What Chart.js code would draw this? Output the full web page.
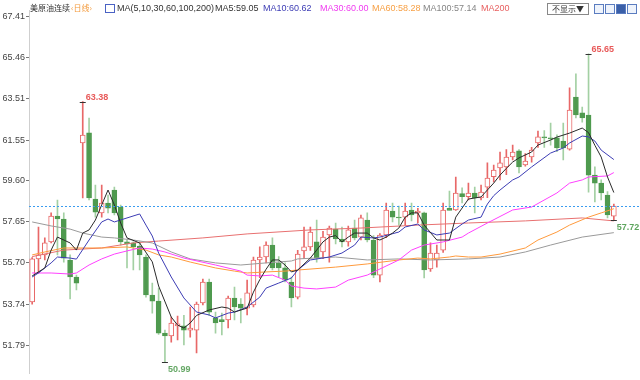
<!DOCTYPE html>
<html>
<head>
<meta charset="utf-8">
<title>美原油连续 日线</title>
<script src="https://cdn.jsdelivr.net/npm/chart.js@4.4.0/dist/chart.umd.min.js"></script>
<style>
  body { margin: 0; background: #fff; }
  #wrap { position: relative; width: 640px; height: 380px; overflow: hidden;
          font-family: "Liberation Sans", Arial, sans-serif; }
  #c { position: absolute; left: 0; top: 0; }
  .h { position: absolute; top: 2px; font-size: 9px; line-height: 12px; white-space: nowrap; color: #333; }
  .cjk { font-family: "Noto Sans CJK SC", sans-serif; font-size: 8px; }
  #hide { position: absolute; left: 547px; top: 3px; width: 40px; height: 10px; border: 1px solid #888;
          font-family: "Noto Sans CJK SC", sans-serif; font-size: 8px; line-height: 10px; color: #333; text-align: center; }
  .ico { position: absolute; top: 4px; width: 8px; height: 8px; border: 1px solid #5a7cc0; background: #eef3fb; }
</style>
</head>
<body>
<div id="wrap">
  <canvas id="c" width="640" height="380"></canvas>
  <span class="h cjk" style="left:30px;">美原油连续</span>
  <span class="h cjk" style="left:71px;color:#f39a3c;">‹日线›</span>
  <span class="h" style="left:105px;top:4px;width:8px;height:7px;border:1px solid #4a62c4;"></span>
  <span class="h" style="left:117px;">MA(5,10,30,60,100,200)</span>
  <span class="h" style="left:215px;color:#333;">MA5:59.05</span>
  <span class="h" style="left:263px;color:#3c3cb4;">MA10:60.62</span>
  <span class="h" style="left:320px;color:#f03cf0;">MA30:60.00</span>
  <span class="h" style="left:372px;color:#f7a045;">MA60:58.28</span>
  <span class="h" style="left:423px;color:#858585;">MA100:57.14</span>
  <span class="h" style="left:481px;color:#e86060;">MA200</span>
  <div id="hide">不显示▼</div>
  <span class="ico" style="left:594px;"></span>
  <span class="ico" style="left:605px;"></span>
  <span class="ico" style="left:616px;background:#3a5fa8;"></span>
  <span class="ico" style="left:627px;"></span>
</div>
<script>
// Daily candles (oldest -> newest)
const open  = [53.84,55.89,56.08,56.70,57.93,57.79,55.84,55.03,61.41,61.89,
               58.74,58.08,58.55,59.17,58.36,56.70,56.65,56.50,55.98,54.17,
               53.88,52.36,52.22,52.70,52.70,52.50,52.50,53.79,54.79,53.08,
               53.00,52.98,54.03,53.74,53.55,53.70,55.84,55.98,56.55,55.70,
               55.46,54.79,54.07,56.27,56.46,56.70,56.22,57.03,57.31,56.84,
               56.70,57.36,56.93,57.74,56.79,55.12,57.03,58.17,57.88,57.88,
               58.22,58.08,58.08,55.41,55.84,56.31,58.30,58.22,59.00,58.85,
               59.03,58.79,59.31,59.80,60.22,60.27,60.74,61.03,60.36,60.74,
               61.41,61.70,61.65,61.65,61.50,61.12,63.60,62.84,62.74,59.88,
               59.50,58.93,57.93];
const high  = [55.95,57.41,56.89,58.08,58.69,58.08,56.08,55.12,63.38,62.60,
               59.41,59.41,58.93,59.31,58.45,56.79,56.70,56.70,56.08,54.74,
               54.50,52.50,53.12,53.17,53.20,53.60,53.84,54.93,54.93,53.36,
               53.31,54.12,54.55,54.00,54.88,55.98,56.46,56.70,56.89,56.00,
               55.70,55.03,56.30,57.41,57.41,57.74,57.20,57.45,57.60,57.41,
               57.45,57.74,57.98,58.08,57.00,57.10,58.55,58.55,58.40,58.55,
               58.55,58.30,58.12,56.65,56.55,58.55,59.12,59.79,59.27,59.50,
               59.31,59.40,60.46,60.36,60.98,61.10,61.31,61.10,60.90,61.20,
               61.98,62.00,62.36,61.80,62.36,64.03,64.70,63.12,65.65,60.27,
               59.65,59.10,58.50];
const low   = [53.74,55.22,55.84,56.65,56.08,55.74,53.98,54.41,58.79,58.70,
               57.88,57.88,58.08,57.98,56.55,55.46,55.36,55.36,54.07,53.31,
               52.30,50.99,51.93,52.03,51.79,52.17,51.41,53.70,53.20,52.36,
               52.27,52.60,52.98,52.84,53.22,53.60,55.00,55.70,55.36,55.03,
               54.80,53.60,53.98,55.90,56.30,55.74,55.90,55.74,56.60,56.46,
               56.50,56.80,56.80,56.70,55.00,54.79,56.90,57.65,57.50,57.50,
               57.70,57.60,54.98,55.30,55.50,56.20,58.22,58.20,58.55,58.70,
               58.08,58.70,58.80,59.55,59.65,59.90,60.60,59.98,60.30,60.50,
               61.20,61.20,61.30,61.00,60.60,61.07,62.60,62.40,59.07,58.60,
               58.70,57.84,57.72];
const close = [55.89,56.08,56.65,57.93,57.79,55.93,55.03,54.74,61.79,58.79,
               58.12,58.55,58.31,58.08,56.70,56.60,56.46,56.08,54.17,53.88,
               52.36,52.22,52.84,52.80,52.50,52.60,53.74,54.79,53.36,52.84,
               52.90,54.03,53.60,53.55,54.27,55.84,55.98,56.55,55.46,55.46,
               54.88,54.03,56.12,56.46,57.17,55.93,56.93,57.36,56.84,56.70,
               57.27,56.89,57.84,56.79,55.12,57.03,58.22,57.88,57.84,58.17,
               57.98,58.17,55.36,56.17,56.17,58.22,58.20,59.03,58.85,59.03,
               58.79,59.07,59.74,60.12,60.46,60.74,60.98,60.27,60.55,61.07,
               61.70,61.65,61.60,61.17,61.17,62.98,62.74,62.60,59.88,59.50,
               59.03,57.98,58.40];

// Moving averages (null = not read, line spans the gap)
const ma5 = [55.08,null,55.46,56.31,56.93,null,56.65,56.31,57.12,57.27,
             57.74,58.46,59.17,58.46,57.60,56.89,null,56.65,null,55.75,
             54.60,null,53.12,52.74,52.60,52.84,53.20,null,53.46,null,
             53.60,53.55,53.36,null,53.55,54.31,54.90,55.40,55.84,55.84,
             55.60,55.27,55.36,null,55.93,56.31,56.70,56.93,57.00,56.70,
             56.93,57.12,null,57.12,56.89,56.79,56.93,57.12,57.36,57.88,
             58.08,58.08,57.50,null,56.79,null,56.79,57.88,null,58.74,
             null,58.84,59.17,59.50,59.88,60.20,60.50,60.70,null,60.98,
             61.31,null,61.55,61.69,null,61.88,null,62.12,61.90,61.30,
             60.74,59.79,59.05];
const ma10 = [55.03,55.22,null,55.70,55.98,null,55.93,55.88,null,56.79,
              null,57.65,57.79,57.65,null,57.84,null,58.03,57.50,56.98,
              56.17,null,55.03,null,54.03,null,53.36,null,53.22,53.08,
              null,53.31,53.36,null,53.60,null,54.07,54.50,null,54.74,
              null,54.98,55.36,null,55.84,null,null,55.98,null,56.17,
              null,56.55,56.93,null,56.89,56.93,null,null,57.17,57.41,
              null,57.55,57.27,null,57.03,null,57.12,null,57.55,57.74,
              null,57.88,58.50,58.90,59.17,null,59.65,59.79,null,60.27,
              null,null,60.93,null,61.17,61.41,null,61.74,61.70,61.50,
              61.07,null,60.62];
const ma30 = [55.22,null,null,55.22,null,null,55.17,55.22,null,55.60,
              null,55.89,null,56.12,null,56.27,null,56.41,null,56.36,
              null,56.22,null,null,55.93,null,null,null,null,55.60,
              null,null,null,55.31,55.12,null,55.08,null,55.12,null,
              54.88,54.60,null,54.50,null,54.46,null,null,54.55,null,
              54.88,null,null,55.12,null,55.41,null,null,55.84,null,
              56.31,null,56.55,null,null,56.70,null,null,56.93,57.12,
              null,null,57.60,null,null,null,58.22,null,null,58.36,
              null,null,null,59.03,null,59.50,null,59.65,59.79,null,
              null,59.84,60.00];
const ma60 = [56.08,null,56.22,null,null,56.41,null,56.41,null,null,
              null,56.41,null,null,null,56.46,null,null,56.31,null,
              56.08,null,55.98,null,null,55.74,null,null,null,55.46,
              null,null,55.31,null,55.22,null,null,55.27,null,null,
              55.31,null,55.36,null,null,null,null,null,55.50,null,
              null,null,null,55.65,null,null,null,null,55.84,null,
              null,55.93,null,55.89,null,null,55.98,56.03,null,55.98,
              null,55.98,null,null,56.12,null,null,null,56.41,null,
              56.79,null,null,57.17,null,57.50,null,null,57.88,null,
              58.08,null,58.28];
const ma100 = [57.65,null,null,57.46,null,null,57.31,null,57.12,null,
               null,56.93,null,56.89,null,null,56.79,null,null,56.65,
               null,null,56.22,null,null,55.89,null,null,null,55.70,
               null,null,null,55.60,null,null,null,55.70,null,null,
               null,55.79,55.89,null,null,null,null,null,55.98,null,
               null,null,null,55.84,null,null,null,null,55.89,null,
               null,null,null,55.84,null,null,null,null,null,55.89,
               null,null,null,null,55.98,null,null,null,56.22,null,
               null,null,56.55,null,null,null,null,56.93,null,null,
               null,null,57.14];
const ma200 = [56.00,null,null,null,null,56.31,null,null,null,null,
               null,56.41,null,null,null,null,56.65,null,null,null,
               56.74,null,null,null,null,null,null,56.89,null,null,
               null,null,null,null,57.08,null,null,null,null,null,
               null,null,null,null,57.27,null,null,null,null,null,
               null,null,57.36,null,null,null,null,null,null,null,
               null,57.50,null,null,null,null,null,null,null,57.60,
               null,null,null,null,null,null,null,null,57.70,null,
               null,null,null,null,null,null,null,57.84,null,null,
               null,null,57.70];

const tickLabels = ['51.79','53.74','55.70','57.65','59.60','61.55','63.51','65.46','67.41'];
const days = close.map((_, i) => String(i + 1));

const UP = '#e86868', DOWN_BODY = '#4f9a4f', DOWN_WICK = '#a3d0a3';
const isUp = (i) => close[i] >= open[i];

// high / low flags with their price labels
const extremes = [
  { i: 8,  v: high[8],  side: 'high', color: '#e85a5a' },
  { i: 88, v: high[88], side: 'high', color: '#e85a5a' },
  { i: 21, v: low[21],  side: 'low',  color: '#66a866' },
  { i: 92, v: low[92],  side: 'low',  color: '#5ea55e' }
];

const overlay = {
  id: 'overlay',
  afterDatasetsDraw(chart) {
    const { ctx, scales: { x, y }, chartArea } = chart;
    ctx.save();
    // last price dotted line
    const py = Math.round(y.getPixelForValue(close[close.length - 1])) + 0.5;
    ctx.strokeStyle = '#3a9cf0';
    ctx.lineWidth = 1;
    ctx.setLineDash([2, 2]);
    ctx.beginPath();
    ctx.moveTo(chartArea.left, py);
    ctx.lineTo(chart.width, py);
    ctx.stroke();
    ctx.setLineDash([]);
    // high / low markers
    ctx.font = 'bold 9px "Liberation Sans", Arial, sans-serif';
    extremes.forEach(e => {
      const px = x.getPixelForValue(e.i);
      const ey = Math.round(y.getPixelForValue(e.v)) + 0.5;
      ctx.strokeStyle = '#333';
      ctx.beginPath();
      ctx.moveTo(px - 3, ey);
      ctx.lineTo(px + 3, ey);
      ctx.stroke();
      ctx.fillStyle = e.color;
      ctx.textBaseline = 'middle';
      ctx.textAlign = 'left';
      const ty = e.side === 'high' ? ey - 5 : ey + 7;
      ctx.fillText(e.v.toFixed(2), px + 3, ty);
    });
    ctx.restore();
  }
};

new Chart(document.getElementById('c'), {
  type: 'bar',
  data: {
    labels: days,
    datasets: [
      { type: 'line', label: 'MA5', data: ma5, borderColor: '#2a2a2a', order: 0 },
      { type: 'line', label: 'MA10', data: ma10, borderColor: '#3c3cb4', order: 0 },
      { type: 'line', label: 'MA30', data: ma30, borderColor: '#ff40ff', order: 0 },
      { type: 'line', label: 'MA60', data: ma60, borderColor: '#ff9a3c', order: 0 },
      { type: 'line', label: 'MA100', data: ma100, borderColor: '#9a9a9a', order: 0 },
      { type: 'line', label: 'MA200', data: ma200, borderColor: '#e87070', order: 0 },
      {
        label: 'body',
        data: open.map((o, i) => [o, close[i]]),
        backgroundColor: (c) => isUp(c.dataIndex) ? '#ffffff' : DOWN_BODY,
        borderColor: (c) => isUp(c.dataIndex) ? UP : DOWN_BODY,
        borderWidth: 1,
        borderSkipped: false,
        barThickness: 5,
        grouped: false,
        order: 1
      },
      {
        label: 'wick',
        data: low.map((l, i) => [l, high[i]]),
        backgroundColor: (c) => isUp(c.dataIndex) ? UP : DOWN_WICK,
        borderWidth: 0,
        barThickness: 1,
        grouped: false,
        order: 2
      }
    ]
  },
  options: {
    responsive: false,
    animation: false,
    layout: { padding: { top: 10, right: 23, bottom: 0, left: 0 } },
    elements: {
      line: { borderWidth: 1, tension: 0, fill: false },
      point: { radius: 0, hoverRadius: 0 }
    },
    datasets: { line: { spanGaps: true } },
    plugins: { legend: { display: false }, tooltip: { enabled: false } },
    scales: {
      x: {
        offset: true,
        display: false,
        grid: { display: false }
      },
      y: {
        position: 'left',
        min: 50.43,
        max: 67.74,
        afterBuildTicks: (axis) => { axis.ticks = tickLabels.map(t => ({ value: parseFloat(t) })); },
        afterFit: (axis) => { axis.width = 29; },
        ticks: {
          color: '#444',
          padding: 1,
          font: { size: 9, family: '"Liberation Sans", Arial, sans-serif' },
          callback: (v, idx) => tickLabels[idx]
        },
        grid: { drawOnChartArea: false, drawTicks: true, tickLength: 3, tickColor: '#777' },
        border: { display: true, color: '#cfcfcf', dash: [1, 2] }
      }
    }
  },
  plugins: [overlay]
});
</script>
</body>
</html>
